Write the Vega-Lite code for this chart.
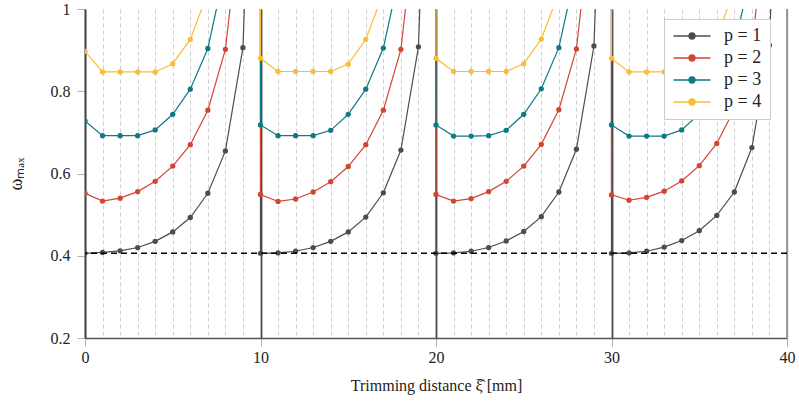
{
  "$schema": "https://vega.github.io/schema/vega-lite/v6.json",
  "width": 702,
  "height": 329,
  "autosize": {"type": "none"},
  "padding": {"left": 85, "top": 9, "right": 12, "bottom": 63},
  "background": "white",
  "config": {
    "view": {"stroke": null},
    "font": "Liberation Serif",
    "legend": {"labelFont": "Liberation Serif"}
  },
  "datasets": {
    "curves": [
      {"p":"p = 1","x":0,"y":0.406,"o":0},{"p":"p = 1","x":1,"y":0.408,"o":1},{"p":"p = 1","x":2,"y":0.412,"o":2},{"p":"p = 1","x":3,"y":0.420,"o":3},{"p":"p = 1","x":4,"y":0.435,"o":4},{"p":"p = 1","x":5,"y":0.458,"o":5},{"p":"p = 1","x":6,"y":0.493,"o":6},{"p":"p = 1","x":7,"y":0.552,"o":7},{"p":"p = 1","x":8,"y":0.655,"o":8},{"p":"p = 1","x":9,"y":0.906,"o":9},{"p":"p = 1","x":10,"y":2.1,"o":10},
      {"p":"p = 1","x":10,"y":0.406,"o":11},{"p":"p = 1","x":11,"y":0.407,"o":12},{"p":"p = 1","x":12,"y":0.411,"o":13},{"p":"p = 1","x":13,"y":0.420,"o":14},{"p":"p = 1","x":14,"y":0.435,"o":15},{"p":"p = 1","x":15,"y":0.458,"o":16},{"p":"p = 1","x":16,"y":0.494,"o":17},{"p":"p = 1","x":17,"y":0.553,"o":18},{"p":"p = 1","x":18,"y":0.657,"o":19},{"p":"p = 1","x":19,"y":0.908,"o":20},{"p":"p = 1","x":20,"y":2.1,"o":21},
      {"p":"p = 1","x":20,"y":0.406,"o":22},{"p":"p = 1","x":21,"y":0.407,"o":23},{"p":"p = 1","x":22,"y":0.411,"o":24},{"p":"p = 1","x":23,"y":0.420,"o":25},{"p":"p = 1","x":24,"y":0.436,"o":26},{"p":"p = 1","x":25,"y":0.459,"o":27},{"p":"p = 1","x":26,"y":0.495,"o":28},{"p":"p = 1","x":27,"y":0.555,"o":29},{"p":"p = 1","x":28,"y":0.659,"o":30},{"p":"p = 1","x":29,"y":0.910,"o":31},{"p":"p = 1","x":30,"y":2.1,"o":32},
      {"p":"p = 1","x":30,"y":0.406,"o":33},{"p":"p = 1","x":31,"y":0.407,"o":34},{"p":"p = 1","x":32,"y":0.411,"o":35},{"p":"p = 1","x":33,"y":0.421,"o":36},{"p":"p = 1","x":34,"y":0.437,"o":37},{"p":"p = 1","x":35,"y":0.461,"o":38},{"p":"p = 1","x":36,"y":0.498,"o":39},{"p":"p = 1","x":37,"y":0.555,"o":40},{"p":"p = 1","x":38,"y":0.663,"o":41},{"p":"p = 1","x":39,"y":0.912,"o":42},{"p":"p = 1","x":40,"y":2.1,"o":43},

      {"p":"p = 2","x":0,"y":0.552,"o":0},{"p":"p = 2","x":1,"y":0.533,"o":1},{"p":"p = 2","x":2,"y":0.540,"o":2},{"p":"p = 2","x":3,"y":0.556,"o":3},{"p":"p = 2","x":4,"y":0.581,"o":4},{"p":"p = 2","x":5,"y":0.618,"o":5},{"p":"p = 2","x":6,"y":0.670,"o":6},{"p":"p = 2","x":7,"y":0.754,"o":7},{"p":"p = 2","x":8,"y":0.902,"o":8},{"p":"p = 2","x":9,"y":1.28,"o":9},{"p":"p = 2","x":10,"y":3,"o":10},
      {"p":"p = 2","x":10,"y":0.549,"o":11},{"p":"p = 2","x":11,"y":0.532,"o":12},{"p":"p = 2","x":12,"y":0.538,"o":13},{"p":"p = 2","x":13,"y":0.555,"o":14},{"p":"p = 2","x":14,"y":0.580,"o":15},{"p":"p = 2","x":15,"y":0.617,"o":16},{"p":"p = 2","x":16,"y":0.670,"o":17},{"p":"p = 2","x":17,"y":0.754,"o":18},{"p":"p = 2","x":18,"y":0.902,"o":19},{"p":"p = 2","x":19,"y":1.28,"o":20},{"p":"p = 2","x":20,"y":3,"o":21},
      {"p":"p = 2","x":20,"y":0.549,"o":22},{"p":"p = 2","x":21,"y":0.533,"o":23},{"p":"p = 2","x":22,"y":0.539,"o":24},{"p":"p = 2","x":23,"y":0.556,"o":25},{"p":"p = 2","x":24,"y":0.581,"o":26},{"p":"p = 2","x":25,"y":0.618,"o":27},{"p":"p = 2","x":26,"y":0.671,"o":28},{"p":"p = 2","x":27,"y":0.755,"o":29},{"p":"p = 2","x":28,"y":0.903,"o":30},{"p":"p = 2","x":29,"y":1.28,"o":31},{"p":"p = 2","x":30,"y":3,"o":32},
      {"p":"p = 2","x":30,"y":0.548,"o":33},{"p":"p = 2","x":31,"y":0.535,"o":34},{"p":"p = 2","x":32,"y":0.542,"o":35},{"p":"p = 2","x":33,"y":0.557,"o":36},{"p":"p = 2","x":34,"y":0.582,"o":37},{"p":"p = 2","x":35,"y":0.619,"o":38},{"p":"p = 2","x":36,"y":0.673,"o":39},{"p":"p = 2","x":37,"y":0.757,"o":40},{"p":"p = 2","x":38,"y":0.905,"o":41},{"p":"p = 2","x":39,"y":1.3,"o":42},{"p":"p = 2","x":40,"y":3,"o":43},

      {"p":"p = 3","x":0,"y":0.728,"o":0},{"p":"p = 3","x":1,"y":0.692,"o":1},{"p":"p = 3","x":2,"y":0.692,"o":2},{"p":"p = 3","x":3,"y":0.692,"o":3},{"p":"p = 3","x":4,"y":0.706,"o":4},{"p":"p = 3","x":5,"y":0.744,"o":5},{"p":"p = 3","x":6,"y":0.805,"o":6},{"p":"p = 3","x":7,"y":0.904,"o":7},{"p":"p = 3","x":8,"y":1.10,"o":8},{"p":"p = 3","x":9,"y":1.6,"o":9},{"p":"p = 3","x":10,"y":3,"o":10},
      {"p":"p = 3","x":10,"y":0.718,"o":11},{"p":"p = 3","x":11,"y":0.692,"o":12},{"p":"p = 3","x":12,"y":0.692,"o":13},{"p":"p = 3","x":13,"y":0.692,"o":14},{"p":"p = 3","x":14,"y":0.705,"o":15},{"p":"p = 3","x":15,"y":0.744,"o":16},{"p":"p = 3","x":16,"y":0.805,"o":17},{"p":"p = 3","x":17,"y":0.905,"o":18},{"p":"p = 3","x":18,"y":1.10,"o":19},{"p":"p = 3","x":19,"y":1.6,"o":20},{"p":"p = 3","x":20,"y":3,"o":21},
      {"p":"p = 3","x":20,"y":0.718,"o":22},{"p":"p = 3","x":21,"y":0.691,"o":23},{"p":"p = 3","x":22,"y":0.691,"o":24},{"p":"p = 3","x":23,"y":0.692,"o":25},{"p":"p = 3","x":24,"y":0.705,"o":26},{"p":"p = 3","x":25,"y":0.744,"o":27},{"p":"p = 3","x":26,"y":0.806,"o":28},{"p":"p = 3","x":27,"y":0.906,"o":29},{"p":"p = 3","x":28,"y":1.10,"o":30},{"p":"p = 3","x":29,"y":1.6,"o":31},{"p":"p = 3","x":30,"y":3,"o":32},
      {"p":"p = 3","x":30,"y":0.718,"o":33},{"p":"p = 3","x":31,"y":0.691,"o":34},{"p":"p = 3","x":32,"y":0.691,"o":35},{"p":"p = 3","x":33,"y":0.691,"o":36},{"p":"p = 3","x":34,"y":0.706,"o":37},{"p":"p = 3","x":35,"y":0.745,"o":38},{"p":"p = 3","x":36,"y":0.808,"o":39},{"p":"p = 3","x":37,"y":0.908,"o":40},{"p":"p = 3","x":38,"y":1.10,"o":41},{"p":"p = 3","x":39,"y":1.6,"o":42},{"p":"p = 3","x":40,"y":3,"o":43},

      {"p":"p = 4","x":0,"y":0.897,"o":0},{"p":"p = 4","x":1,"y":0.847,"o":1},{"p":"p = 4","x":2,"y":0.847,"o":2},{"p":"p = 4","x":3,"y":0.847,"o":3},{"p":"p = 4","x":4,"y":0.847,"o":4},{"p":"p = 4","x":5,"y":0.867,"o":5},{"p":"p = 4","x":6,"y":0.926,"o":6},{"p":"p = 4","x":7,"y":1.04,"o":7},{"p":"p = 4","x":8,"y":1.3,"o":8},{"p":"p = 4","x":9,"y":1.8,"o":9},{"p":"p = 4","x":10,"y":3,"o":10},
      {"p":"p = 4","x":10,"y":0.880,"o":11},{"p":"p = 4","x":11,"y":0.848,"o":12},{"p":"p = 4","x":12,"y":0.848,"o":13},{"p":"p = 4","x":13,"y":0.848,"o":14},{"p":"p = 4","x":14,"y":0.848,"o":15},{"p":"p = 4","x":15,"y":0.866,"o":16},{"p":"p = 4","x":16,"y":0.926,"o":17},{"p":"p = 4","x":17,"y":1.04,"o":18},{"p":"p = 4","x":18,"y":1.3,"o":19},{"p":"p = 4","x":19,"y":1.8,"o":20},{"p":"p = 4","x":20,"y":3,"o":21},
      {"p":"p = 4","x":20,"y":0.880,"o":22},{"p":"p = 4","x":21,"y":0.848,"o":23},{"p":"p = 4","x":22,"y":0.848,"o":24},{"p":"p = 4","x":23,"y":0.848,"o":25},{"p":"p = 4","x":24,"y":0.848,"o":26},{"p":"p = 4","x":25,"y":0.867,"o":27},{"p":"p = 4","x":26,"y":0.927,"o":28},{"p":"p = 4","x":27,"y":1.04,"o":29},{"p":"p = 4","x":28,"y":1.3,"o":30},{"p":"p = 4","x":29,"y":1.8,"o":31},{"p":"p = 4","x":30,"y":3,"o":32},
      {"p":"p = 4","x":30,"y":0.880,"o":33},{"p":"p = 4","x":31,"y":0.847,"o":34},{"p":"p = 4","x":32,"y":0.847,"o":35},{"p":"p = 4","x":33,"y":0.847,"o":36},{"p":"p = 4","x":34,"y":0.848,"o":37},{"p":"p = 4","x":35,"y":0.867,"o":38},{"p":"p = 4","x":36,"y":0.928,"o":39},{"p":"p = 4","x":37,"y":1.05,"o":40},{"p":"p = 4","x":38,"y":1.3,"o":41},{"p":"p = 4","x":39,"y":1.8,"o":42},{"p":"p = 4","x":40,"y":3,"o":43}
    ]
  },
  "layer": [
    {
      "data": {"name": "curves"},
      "mark": {"type": "line", "clip": true, "strokeWidth": 1.2},
      "encoding": {
        "x": {
          "field": "x", "type": "quantitative",
          "scale": {"domain": [0, 40], "nice": false, "zero": false},
          "axis": {
            "title": "Trimming distance ξ̂ [mm]",
            "titleFont": "Liberation Serif", "titleFontSize": 16, "titleFontWeight": "normal", "titleColor": "#222", "titlePadding": 12,
            "values": [0,1,2,3,4,5,6,7,8,9,10,11,12,13,14,15,16,17,18,19,20,21,22,23,24,25,26,27,28,29,30,31,32,33,34,35,36,37,38,39,40],
            "tickCount": 100,
            "format": "d",
            "labelExpr": "datum.value % 10 === 0 ? datum.label : ''",
            "labelFont": "Liberation Serif", "labelFontSize": 16, "labelColor": "#222", "labelPadding": 3,
            "labelFlush": false, "labelOverlap": false,
            "domainColor": "#555", "domainWidth": 1.5,
            "tickSize": 8,
            "tickColor": {"condition": {"test": "datum.value % 10 === 0", "value": "#b0b0b0"}, "value": "transparent"},
            "tickWidth": 1,
            "grid": true,
            "gridColor": {"condition": {"test": "datum.value % 10 === 0 && datum.value > 0 && datum.value < 40", "value": "#4a4a4a"}, "value": "#cfcfcf"},
            "gridDash": {"condition": {"test": "datum.value % 10 === 0", "value": []}, "value": [4, 3]},
            "gridWidth": {"condition": {"test": "datum.value % 10 === 0", "value": 1.8}, "value": 1}
          }
        },
        "y": {
          "field": "y", "type": "quantitative",
          "scale": {"domain": [0.2, 1], "nice": false, "zero": false},
          "axis": {
            "title": "ωₘₐₓ",
            "titleFont": "Liberation Serif", "titleFontSize": 18, "titleFontWeight": "normal", "titleColor": "#222", "titlePadding": 25,
            "values": [0.2, 0.4, 0.6, 0.8, 1],
            "tickCount": 10,
            "format": "~g",
            "labelFont": "Liberation Serif", "labelFontSize": 16, "labelColor": "#222", "labelPadding": 7,
            "labelFlush": false,
            "domainColor": "#444", "domainWidth": 2,
            "tickSize": 8, "tickColor": "#b0b0b0", "tickWidth": 1,
            "grid": false
          }
        },
        "color": {
          "field": "p", "type": "nominal",
          "scale": {"domain": ["p = 1", "p = 2", "p = 3", "p = 4"], "range": ["#4d4d4d", "#d44530", "#0d7a87", "#fbbd33"]},
          "legend": {
            "title": null,
            "orient": "none", "legendX": 579, "legendY": 10,
            "symbolType": "M-3.7,0H3.7M0.6,0A0.6,0.6,0,1,1,-0.6,0A0.6,0.6,0,1,1,0.6,0Z",
            "symbolSize": 100, "symbolStrokeWidth": 1.3, "symbolOffset": 11,
            "labelFont": "Liberation Serif", "labelFontSize": 18, "labelColor": "#222", "labelOffset": 23,
            "rowPadding": 4, "padding": 8,
            "strokeColor": "#cccccc", "fillColor": "white",
            "encode": {"symbols": {"update": {"fill": {"scale": "color", "field": "value"}, "stroke": {"scale": "color", "field": "value"}}}}
          }
        },
        "order": {"field": "o", "type": "quantitative"}
      }
    },
    {
      "data": {"name": "curves"},
      "transform": [{"filter": "datum.y <= 1"}],
      "mark": {"type": "point", "filled": true, "size": 28, "opacity": 1, "clip": true},
      "encoding": {
        "x": {"field": "x", "type": "quantitative"},
        "y": {"field": "y", "type": "quantitative"},
        "color": {"field": "p", "type": "nominal"}
      }
    },
    {
      "data": {"values": [{}]},
      "mark": {"type": "rule", "color": "#999999", "strokeWidth": 2},
      "encoding": {"x": {"datum": 40}}
    },
    {
      "data": {"values": [{}]},
      "mark": {"type": "rule", "color": "#000000", "strokeWidth": 1.5, "strokeDash": [6, 4]},
      "encoding": {"y": {"datum": 0.406}}
    }
  ]
}
